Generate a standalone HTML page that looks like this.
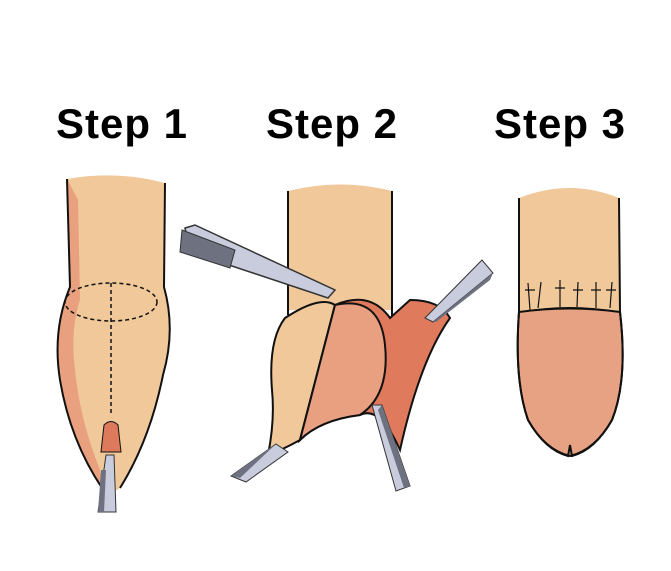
<!DOCTYPE html>
<html><head><style>
html,body{margin:0;padding:0;background:#fff;width:671px;height:571px;overflow:hidden}
.t{position:absolute;top:100px;font-family:"Liberation Sans",sans-serif;font-weight:bold;font-size:42px;letter-spacing:1px;color:#000;white-space:nowrap}
</style></head><body>
<div class="t" style="left:56px">Step 1</div>
<div class="t" style="left:266px">Step 2</div>
<div class="t" style="left:494px">Step 3</div>
<svg width="671" height="571" style="position:absolute;left:0;top:0" fill="none" stroke="#111" stroke-width="2">
<!-- Step 1 -->
<path d="M67,179 Q116,170 165,183 L164,287 Q176,330 163,375 Q150,440 120,488 Q111,495 102,488 Q70,440 60,380 Q52,330 70,287 Z" fill="#f0c89a" stroke="none"/>
<path d="M67,179 L70,287 Q52,330 60,380 Q70,440 102,488 L100,470 Q80,420 75,370 Q70,330 80,300 L78,200 Z" fill="#e9a07e" stroke="none"/>
<path d="M67,179 L70,287 Q52,330 60,380 Q70,440 102,488"/>
<path d="M165,183 L164,287 Q176,330 163,375 Q150,440 120,488"/>
<ellipse cx="111" cy="302" rx="46" ry="19" stroke-dasharray="4,3" stroke-width="1.5"/>
<path d="M111,283 L111,415" stroke-dasharray="4,3" stroke-width="1.5"/>
<path d="M104,425 Q111,418 118,425 L121,452 L101,452 Z" fill="#dd7a5c" stroke-width="1"/>
<path d="M106,455 L114,455 L116,512 L98,512 Z" fill="#c8ccdc" stroke="#333" stroke-width="1"/>
<path d="M98,512 L101,470 L106,470 L104,512 Z" fill="#6e7180" stroke="none"/>
<!-- Step 2 -->
<path d="M288,191 Q340,178 392,191 L392,310 L288,310 Z" fill="#f0c89a" stroke="none"/>
<path d="M288,191 L288,315 M392,191 L392,318"/>
<path d="M285,318 Q320,295 335,305 L300,440 Q282,450 268,455 Q275,420 272,390 Q268,340 285,318 Z" fill="#f0c89a"/>
<path d="M300,440 L335,305 Q370,290 390,318 L410,300 Q440,300 450,318 Q420,360 400,450 Q380,405 360,415 Q320,420 300,440 Z" fill="#e07a5c"/>
<path d="M335,305 Q380,295 385,345 Q390,395 360,415 Q320,420 300,440 Z" fill="#e8a080"/>
<path d="M185,228 L195,225 L335,290 L328,298 L190,252 Z" fill="#c8ccdc" stroke="#333" stroke-width="1.5"/>
<path d="M182,230 L235,250 L230,268 L180,252 Z" fill="#6e7180" stroke="#333" stroke-width="1"/>
<path d="M276,444 L288,452 L246,482 L231,476 Z" fill="#c8ccdc" stroke="#333" stroke-width="1"/>
<path d="M231,476 L270,448 L276,444 L240,478 Z" fill="#6e7180" stroke="none"/>
<path d="M372,405 L382,405 L410,486 L396,491 Z" fill="#c8ccdc" stroke="#333" stroke-width="1"/>
<path d="M382,405 L410,486 L404,488 L378,410 Z" fill="#6e7180" stroke="none"/>
<path d="M425,318 L482,260 L493,273 L433,322 Z" fill="#c8ccdc" stroke="#333" stroke-width="1"/>
<path d="M433,322 L493,273 L490,280 L436,322 Z" fill="#6e7180" stroke="none"/>
<!-- Step 3 -->
<path d="M519,198 Q570,178 619,198 L620,312 L519,312 Z" fill="#f0c89a" stroke="none"/>
<path d="M519,312 Q570,305 620,312 Q628,380 612,420 Q595,450 570,456 Q545,450 528,420 Q514,380 519,312 Z" fill="#e6a282"/>
<path d="M519,198 L519,312 Q514,380 528,420 Q545,450 568,456 L570,445 L572,456 Q595,450 612,420 Q628,380 620,312 L619,198"/>
<path d="M521,312 Q570,303 618,312" stroke-width="1"/>
<g stroke-width="1.2"><path d="M530,310 L528,283 M538,308 L541,282 M560,307 L560,280 M577,307 L578,282 M596,308 L596,282 M610,308 L612,282 M525,290 L535,290 M555,288 L565,288 M573,290 L583,290 M591,290 L601,290 M606,290 L616,290"/></g>
</svg>
</body></html>
